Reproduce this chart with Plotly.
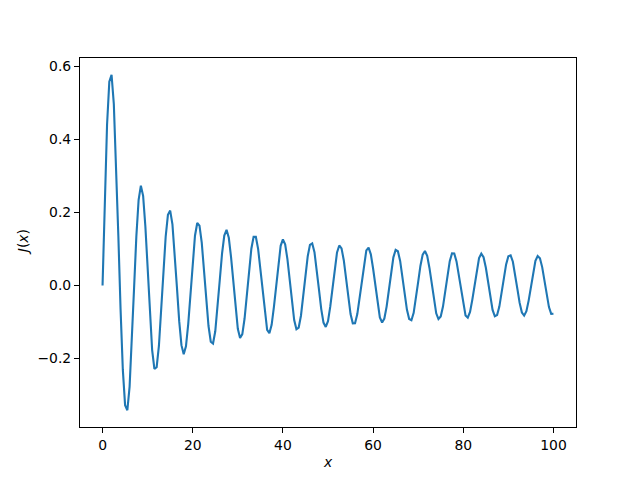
import plotly.graph_objects as go

# sample step along x
x_step = 0.5

# J(x) values at x = 0, 0.5, 1.0, ..., 100
j_values = [
    0.0, 0.2423, 0.4401, 0.5579, 0.5767, 0.4971, 0.3391, 0.1374, -0.0660, -0.2311,
    -0.3276, -0.3414, -0.2767, -0.1538, -0.0047, 0.1352, 0.2346, 0.2731, 0.2453, 0.1613,
    0.0435, -0.0789, -0.1768, -0.2284, -0.2234, -0.1655, -0.0703, 0.0380, 0.1334, 0.1934,
    0.2051, 0.1672, 0.0904, -0.0058, -0.0976, -0.1633, -0.1879, -0.1665, -0.1057, -0.0209,
    0.0668, 0.1362, 0.1711, 0.1638, 0.1171, 0.0432, -0.0395, -0.1109, -0.1540, -0.1589,
    -0.1253, -0.0620, 0.0150, 0.0870, 0.1366, 0.1521, 0.1305, 0.0777, 0.0069, -0.0643,
    -0.1187, -0.1435, -0.1330, -0.0904, -0.0266, 0.0427, 0.1006, 0.1332, 0.1330, 0.1004,
    0.0440, -0.0223, -0.0823, -0.1215, -0.1306, -0.1078, -0.0592, 0.0032, 0.0641, 0.1085,
    0.1260, 0.1127, 0.0721, 0.0145, -0.0460, -0.0945, -0.1195, -0.1151, -0.0828, -0.0307,
    0.0284, 0.0798, 0.1113, 0.1153, 0.0913, 0.0452, -0.0113, -0.0645, -0.1015, -0.1134,
    -0.0975, -0.0581, -0.0049, 0.0490, 0.0905, 0.1095, 0.1017, 0.0691, 0.0200, -0.0334,
    -0.0783, -0.1036, -0.1035, -0.0782, -0.0340, 0.0181, 0.0653, 0.0962, 0.1034, 0.0853,
    0.0466, -0.0031, -0.0517, -0.0873, -0.1013, -0.0905, -0.0577, -0.0111, 0.0378, 0.0771,
    0.0973, 0.0937, 0.0672, 0.0245, -0.0238, -0.0660, -0.0918, -0.0950, -0.0750, -0.0368,
    0.0100, 0.0541, 0.0846, 0.0944, 0.0810, 0.0480, 0.0035, -0.0416, -0.0762, -0.0919,
    -0.0851, -0.0577, -0.0163, 0.0288, 0.0666, 0.0879, 0.0876, 0.0659, 0.0283, -0.0160,
    -0.0561, -0.0822, -0.0882, -0.0725, -0.0393, 0.0033, 0.0449, 0.0752, 0.0870, 0.0775,
    0.0492, 0.0090, -0.0332, -0.0670, -0.0843, -0.0809, -0.0577, -0.0206, 0.0213, 0.0578,
    0.0799, 0.0825, 0.0649, 0.0315, -0.0093, -0.0477, -0.0742, -0.0825, -0.0705, -0.0414,
    -0.0024, 0.0370, 0.0672, 0.0808, 0.0746, 0.0503, 0.0137, -0.0260, -0.0591, -0.0777,
    -0.0772,
]
x_values = [i * x_step for i in range(len(j_values))]

x_tick_vals = [0, 20, 40, 60, 80, 100]
x_tick_text = ["0", "20", "40", "60", "80", "100"]
y_tick_vals = [-0.2, 0.0, 0.2, 0.4, 0.6]
y_tick_text = ["\u22120.2", "0.0", "0.2", "0.4", "0.6"]

FONT = "DejaVu Sans"
FS = 13.9

fig = go.Figure()
fig.add_trace(go.Scatter(
    x=x_values, y=j_values, mode="lines",
    line=dict(color="#1f77b4", width=2.1),
    showlegend=False,
))

axis_common = dict(
    showgrid=False, zeroline=False, showline=True, mirror=True,
    linecolor="black", linewidth=1.1, ticks="outside", ticklen=5,
    tickwidth=1.1, tickcolor="black",
    tickfont=dict(family=FONT, size=FS, color="black"),
)

ymin, ymax = min(j_values), max(j_values)
ypad = 0.05 * (ymax - ymin)
xmin, xmax = min(x_values), max(x_values)
xpad = 0.05 * (xmax - xmin)

fig.update_layout(
    width=640, height=480,
    margin=dict(l=80, r=64, t=58, b=53),
    paper_bgcolor="white", plot_bgcolor="white",
    font=dict(family=FONT, size=FS, color="black"),
    xaxis=dict(range=[xmin - xpad, xmax + xpad], tickvals=x_tick_vals,
               ticktext=x_tick_text, **axis_common),
    yaxis=dict(range=[ymin - ypad, ymax + ypad], tickvals=y_tick_vals,
               ticktext=y_tick_text, **axis_common),
    annotations=[
        dict(text="<i>x</i>", xref="paper", yref="paper", x=0.5, y=-0.094,
             xanchor="center", yanchor="middle", showarrow=False,
             font=dict(family=FONT, size=FS, color="black")),
        dict(text="<i>J</i>(<i>x</i>)", xref="paper", yref="paper", x=-0.1155, y=0.5,
             xanchor="center", yanchor="middle", showarrow=False, textangle=-90,
             font=dict(family=FONT, size=FS, color="black")),
    ],
)

fig.write_html(
    "out.html",
    config={"displayModeBar": False},
    post_script="document.body.style.margin='0px';document.body.style.overflow='hidden';",
)
